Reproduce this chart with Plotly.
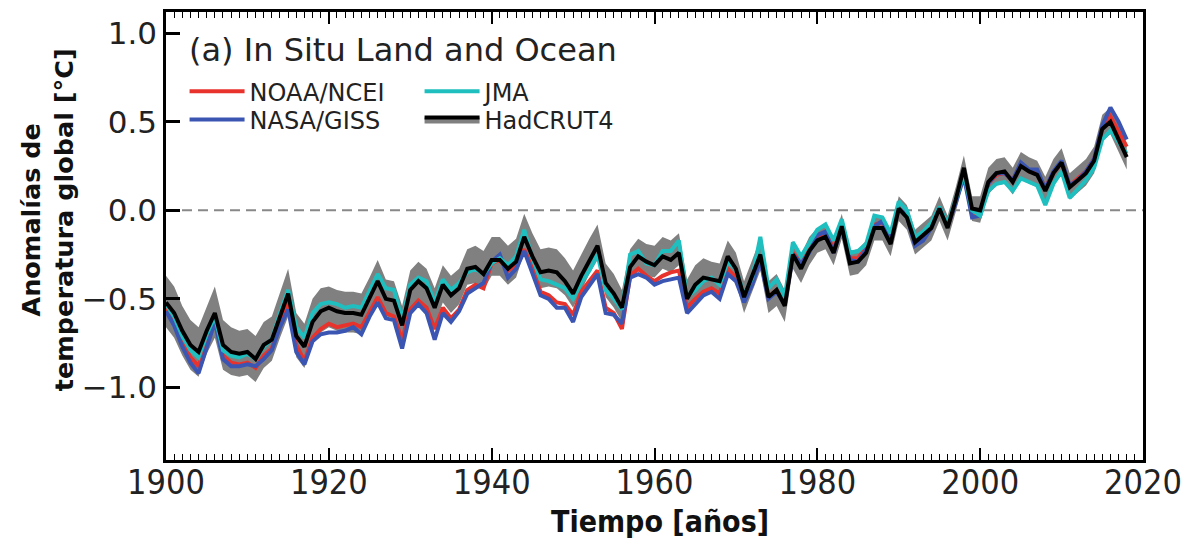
import plotly.graph_objects as go

years = list(range(1900, 2019))

hadcrut4 = [
    -0.52, -0.58, -0.68, -0.76, -0.80, -0.68, -0.58, -0.76, -0.80, -0.81,
    -0.80, -0.84, -0.76, -0.73, -0.60, -0.47, -0.71, -0.77, -0.63, -0.57,
    -0.55, -0.57, -0.58, -0.58, -0.59, -0.50, -0.40, -0.50, -0.51, -0.65,
    -0.45, -0.40, -0.44, -0.55, -0.42, -0.48, -0.44, -0.33, -0.32, -0.36,
    -0.28, -0.28, -0.33, -0.29, -0.15, -0.26, -0.35, -0.34, -0.35, -0.40,
    -0.47, -0.37, -0.28, -0.20, -0.41, -0.47, -0.55, -0.32, -0.26, -0.29,
    -0.31, -0.26, -0.28, -0.24, -0.50, -0.42, -0.38, -0.39, -0.40, -0.26,
    -0.33, -0.49, -0.37, -0.25, -0.49, -0.45, -0.54, -0.25, -0.33, -0.23,
    -0.17, -0.15, -0.24, -0.09, -0.30, -0.29, -0.24, -0.10, -0.10, -0.19,
    0.01, -0.04, -0.18, -0.14, -0.10, 0.01, -0.10, 0.06, 0.24, 0.01,
    0.00, 0.16, 0.21, 0.22, 0.16, 0.25, 0.22, 0.20, 0.11, 0.21,
    0.27, 0.13, 0.17, 0.21, 0.28, 0.46, 0.50, 0.40, 0.30,
]

jma = [
    -0.53, -0.60, -0.71, -0.79, -0.83, -0.70, -0.60, -0.79, -0.82, -0.83,
    -0.81, -0.84, -0.77, -0.73, -0.58, -0.45, -0.66, -0.72, -0.58, -0.53,
    -0.52, -0.53, -0.55, -0.54, -0.55, -0.45, -0.36, -0.44, -0.45, -0.62,
    -0.42, -0.38, -0.40, -0.52, -0.39, -0.45, -0.41, -0.35, -0.33, -0.36,
    -0.30, -0.27, -0.31, -0.26, -0.11, -0.27, -0.39, -0.40, -0.42, -0.44,
    -0.50, -0.41, -0.34, -0.25, -0.45, -0.50, -0.56, -0.25, -0.23, -0.30,
    -0.31, -0.23, -0.23, -0.17, -0.49, -0.45, -0.40, -0.38, -0.42, -0.29,
    -0.33, -0.48, -0.38, -0.15, -0.44, -0.39, -0.49, -0.18, -0.26, -0.19,
    -0.11, -0.08, -0.17, -0.05, -0.24, -0.23, -0.19, -0.03, -0.04, -0.13,
    0.05, 0.00, -0.15, -0.12, -0.07, 0.02, -0.08, 0.06, 0.21, 0.00,
    -0.03, 0.11, 0.15, 0.16, 0.11, 0.18, 0.16, 0.14, 0.03, 0.15,
    0.22, 0.07, 0.12, 0.17, 0.24, 0.40, 0.45, 0.38, 0.32,
]

noaa = [
    -0.55, -0.62, -0.74, -0.83, -0.88, -0.75, -0.61, -0.82, -0.86, -0.87,
    -0.86, -0.89, -0.82, -0.78, -0.64, -0.52, -0.76, -0.85, -0.72, -0.67,
    -0.64, -0.66, -0.65, -0.64, -0.66, -0.58, -0.49, -0.58, -0.60, -0.73,
    -0.56, -0.51, -0.55, -0.67, -0.55, -0.61, -0.56, -0.45, -0.42, -0.44,
    -0.30, -0.28, -0.34, -0.31, -0.22, -0.33, -0.46, -0.48, -0.52, -0.53,
    -0.59, -0.46, -0.40, -0.34, -0.55, -0.58, -0.67, -0.37, -0.33, -0.37,
    -0.40, -0.37, -0.35, -0.34, -0.55, -0.50, -0.46, -0.44, -0.47, -0.33,
    -0.38, -0.50, -0.40, -0.27, -0.49, -0.45, -0.52, -0.24, -0.30, -0.23,
    -0.15, -0.12, -0.22, -0.08, -0.27, -0.27, -0.21, -0.08, -0.07, -0.16,
    0.01, -0.03, -0.18, -0.15, -0.09, 0.01, -0.09, 0.05, 0.20, -0.02,
    -0.01, 0.15, 0.20, 0.21, 0.17, 0.26, 0.22, 0.21, 0.13, 0.21,
    0.27, 0.14, 0.18, 0.22, 0.29, 0.47, 0.53, 0.45, 0.36,
]

nasa = [
    -0.57, -0.65, -0.77, -0.86, -0.92, -0.78, -0.63, -0.84, -0.88, -0.88,
    -0.87, -0.88, -0.84, -0.79, -0.66, -0.56, -0.80, -0.87, -0.74, -0.70,
    -0.69, -0.69, -0.68, -0.66, -0.70, -0.60, -0.52, -0.61, -0.62, -0.78,
    -0.58, -0.53, -0.58, -0.73, -0.58, -0.63, -0.57, -0.47, -0.44, -0.41,
    -0.29, -0.25, -0.38, -0.33, -0.23, -0.35, -0.48, -0.50, -0.55, -0.55,
    -0.63, -0.49, -0.42, -0.36, -0.58, -0.59, -0.64, -0.38, -0.36, -0.38,
    -0.42, -0.40, -0.39, -0.38, -0.58, -0.53, -0.48, -0.46, -0.50, -0.36,
    -0.40, -0.52, -0.42, -0.28, -0.50, -0.46, -0.53, -0.25, -0.30, -0.24,
    -0.14, -0.12, -0.24, -0.09, -0.28, -0.29, -0.22, -0.09, -0.06, -0.16,
    0.01, -0.03, -0.20, -0.17, -0.10, 0.02, -0.09, 0.04, 0.19, -0.04,
    -0.03, 0.15, 0.21, 0.21, 0.17, 0.27, 0.23, 0.23, 0.12, 0.22,
    0.28, 0.14, 0.17, 0.22, 0.29, 0.48, 0.58, 0.50, 0.40,
]

# HadCRUT4 uncertainty (distance above / below the central estimate)
hadcrut4_unc_up = [
    0.15, 0.15, 0.14, 0.14, 0.14, 0.14, 0.15, 0.14, 0.14, 0.13,
    0.13, 0.13, 0.13, 0.13, 0.13, 0.14, 0.13, 0.13, 0.13, 0.13,
    0.12, 0.12, 0.12, 0.12, 0.12, 0.12, 0.12, 0.11, 0.11, 0.11,
    0.11, 0.11, 0.11, 0.11, 0.11, 0.11, 0.11, 0.11, 0.12, 0.13,
    0.13, 0.13, 0.13, 0.13, 0.13, 0.13, 0.13, 0.13, 0.13, 0.13,
    0.13, 0.12, 0.12, 0.12, 0.11, 0.11, 0.10, 0.10, 0.10, 0.10,
    0.11, 0.11, 0.11, 0.11, 0.11, 0.11, 0.11, 0.10, 0.10, 0.09,
    0.09, 0.09, 0.09, 0.09, 0.09, 0.09, 0.09, 0.08, 0.08, 0.08,
    0.07, 0.07, 0.07, 0.07, 0.07, 0.07, 0.07, 0.07, 0.07, 0.07,
    0.07, 0.07, 0.07, 0.07, 0.07, 0.07, 0.07, 0.07, 0.07, 0.07,
    0.08, 0.08, 0.08, 0.08, 0.08, 0.08, 0.08, 0.08, 0.08, 0.08,
    0.08, 0.08, 0.08, 0.08, 0.08, 0.08, 0.08, 0.08, 0.08,
]
hadcrut4_unc_dn = [
    0.14, 0.14, 0.14, 0.14, 0.14, 0.13, 0.14, 0.14, 0.13, 0.13,
    0.13, 0.13, 0.13, 0.12, 0.12, 0.13, 0.12, 0.12, 0.12, 0.12,
    0.11, 0.11, 0.11, 0.11, 0.11, 0.11, 0.10, 0.10, 0.10, 0.10,
    0.10, 0.10, 0.10, 0.10, 0.10, 0.10, 0.09, 0.09, 0.09, 0.09,
    0.09, 0.09, 0.09, 0.09, 0.09, 0.09, 0.09, 0.09, 0.09, 0.08,
    0.08, 0.08, 0.08, 0.08, 0.08, 0.08, 0.08, 0.08, 0.08, 0.08,
    0.07, 0.07, 0.07, 0.07, 0.07, 0.07, 0.07, 0.07, 0.07, 0.08,
    0.08, 0.09, 0.09, 0.09, 0.09, 0.09, 0.09, 0.08, 0.08, 0.08,
    0.07, 0.07, 0.07, 0.07, 0.07, 0.07, 0.07, 0.07, 0.07, 0.07,
    0.07, 0.07, 0.07, 0.07, 0.07, 0.07, 0.07, 0.07, 0.07, 0.07,
    0.07, 0.07, 0.07, 0.07, 0.07, 0.07, 0.07, 0.07, 0.07, 0.07,
    0.07, 0.07, 0.07, 0.07, 0.07, 0.07, 0.07, 0.07, 0.07,
]

x_ticks = [1900, 1920, 1940, 1960, 1980, 2000, 2020]
y_ticks = [-1.0, -0.5, 0.0, 0.5, 1.0]

title_text = "(a) In Situ Land and Ocean"
x_title = "Tiempo [años]"
y_title = "Anomalías de<br>temperatura global [°C]"

C_NOAA = "#e8322c"
C_NASA = "#3b55b3"
C_JMA = "#1fbfbf"
C_HAD = "#000000"
C_BAND = "#808080"

band_lo = [v - d for v, d in zip(hadcrut4, hadcrut4_unc_dn)]
band_hi = [v + u for v, u in zip(hadcrut4, hadcrut4_unc_up)]

fig = go.Figure()

# uncertainty band
fig.add_trace(go.Scatter(x=years, y=band_lo, mode="lines", line=dict(width=0, color=C_BAND),
                         showlegend=False, hoverinfo="skip"))
fig.add_trace(go.Scatter(x=years, y=band_hi, mode="lines", line=dict(width=0, color=C_BAND),
                         fill="tonexty", fillcolor=C_BAND, showlegend=False, hoverinfo="skip"))

LW = 4
fig.add_trace(go.Scatter(x=years, y=noaa, mode="lines", name="NOAA/NCEI",
                         line=dict(color=C_NOAA, width=LW), legend="legend"))
fig.add_trace(go.Scatter(x=years, y=nasa, mode="lines", name="NASA/GISS",
                         line=dict(color=C_NASA, width=LW), legend="legend2"))
fig.add_trace(go.Scatter(x=years, y=jma, mode="lines", name="JMA",
                         line=dict(color=C_JMA, width=LW), legend="legend"))
# HadCRUT4 central line (zero-area fill against a copy of itself so the legend shows the band)
fig.add_trace(go.Scatter(x=years, y=hadcrut4, mode="lines", line=dict(width=0, color=C_HAD),
                         showlegend=False, hoverinfo="skip"))
fig.add_trace(go.Scatter(x=years, y=hadcrut4, mode="lines", name="HadCRUT4",
                         line=dict(color=C_HAD, width=LW), fill="tonexty", fillcolor=C_BAND,
                         legend="legend2"))

fig.add_shape(type="line", xref="paper", x0=0, x1=1, yref="y", y0=0, y1=0,
              line=dict(color="#888888", width=2, dash="10px,6px"), layer="below")

fig.add_annotation(text=title_text, xref="paper", yref="paper", x=0.021, y=0.915,
                   xanchor="left", yanchor="middle", showarrow=False,
                   font=dict(family="DejaVu Sans", size=32, color="#222222"))

# y-axis title as a rotated annotation (sits slightly above the axis centre, like the original)
fig.add_annotation(text="<b>" + y_title + "</b>", xref="paper", yref="paper",
                   x=-0.121, y=0.537, xanchor="center", yanchor="middle",
                   textangle=-90, showarrow=False,
                   font=dict(family="DejaVu Sans", size=25.5, color="#111111"))

# x-axis title
fig.add_annotation(text="<b>" + x_title + "</b>", xref="paper", yref="paper",
                   x=0.506, y=-0.138, xanchor="center", yanchor="middle",
                   showarrow=False,
                   font=dict(family="DejaVu Sans Condensed, DejaVu Sans", size=30, color="#111111"))

legend_common = dict(orientation="h", xanchor="left", yanchor="middle",
                     bgcolor="rgba(0,0,0,0)", itemwidth=55, entrywidth=165,
                     font=dict(family="DejaVu Sans", size=24, color="#222222"),
                     traceorder="normal")

# The page body adds an 8 px margin, so the figure is 8 px smaller and margins shifted.
fig.update_layout(
    width=1181, height=532,
    margin=dict(l=158, r=46, t=4, b=80, autoexpand=False),
    paper_bgcolor="white", plot_bgcolor="white",
    font=dict(family="DejaVu Sans", color="#222222"),
    legend=dict(x=0.019, y=0.822, **legend_common),
    legend2=dict(x=0.019, y=0.759, **legend_common),
    showlegend=True,
)

fig.update_xaxes(
    range=[1900, 2020], tickvals=x_ticks, ticktext=[str(t) for t in x_ticks],
    ticks="inside", ticklen=12, tickwidth=2, tickcolor="black",
    minor=dict(dtick=1, tick0=1900, ticks="inside", ticklen=6, tickwidth=1.2, tickcolor="black"),
    showline=True, linecolor="black", linewidth=2.5, mirror="ticks",
    showgrid=False, zeroline=False, automargin=False, ticklabelstandoff=-10,
    tickfont=dict(family="DejaVu Sans Condensed, Liberation Sans Narrow, DejaVu Sans", size=34, color="#222222"),
)
fig.update_yaxes(
    range=[-1.41, 1.12], tickvals=y_ticks, tickformat=".1f",
    ticks="inside", ticklen=14, tickwidth=2.5, tickcolor="black",
    showline=True, linecolor="black", linewidth=2.5, mirror=True,
    showgrid=False, zeroline=False, automargin=False,
    tickfont=dict(family="DejaVu Sans", size=31, color="#222222"),
)

fig.write_html("out.html")
